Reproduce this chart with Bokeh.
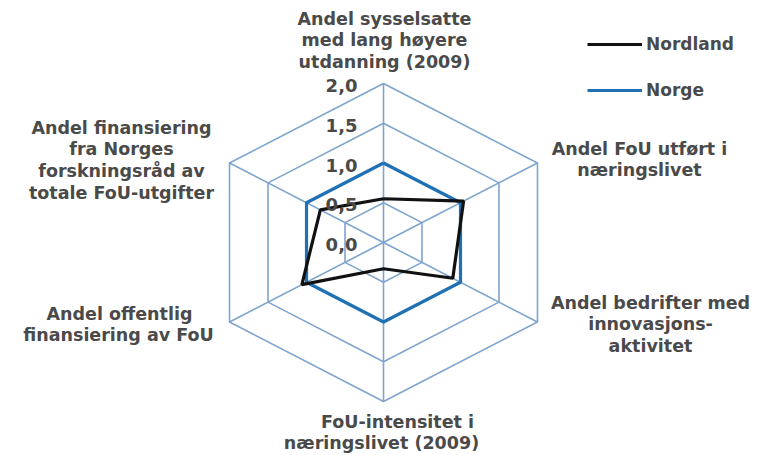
import numpy as np
from bokeh.plotting import figure
from bokeh.models import Range1d, Legend, LegendItem, ColumnDataSource
from bokeh.core.properties import value
from bokeh.embed import file_html
from bokeh.resources import INLINE

# ---------------- data ----------------
categories = [
    ["Andel sysselsatte", "med lang høyere", "utdanning (2009)"],
    ["Andel FoU utført i", "næringslivet"],
    ["Andel bedrifter med", "innovasjons-", "aktivitet"],
    ["FoU-intensitet i", "næringslivet (2009)"],
    ["Andel offentlig", "finansiering av FoU"],
    ["Andel finansiering", "fra Norges", "forskningsråd av", "totale FoU-utgifter"],
]
nordland = [0.55, 1.04, 0.90, 0.33, 1.06, 0.82]
norge = [1.0, 1.0, 1.0, 1.0, 1.0, 1.0]
series_names = ["Nordland", "Norge"]
tick_values = [0.0, 0.5, 1.0, 1.5, 2.0]
tick_labels = ["0,0", "0,5", "1,0", "1,5", "2,0"]

# ---------------- layout ----------------
W, H = 757, 455
CX, CY = 383, 242          # centre in figure pixels (from top-left)
KX, KY = 88.9, 79.5        # pixels per unit (x is stretched)

def px(X):   # picture x -> data x
    return (X - CX) / KX

def py(Y):   # picture y -> data y
    return (CY - Y) / KY

p = figure(width=W, height=H, output_backend="svg", toolbar_location=None,
           x_range=Range1d(-CX / KX, (W - CX) / KX),
           y_range=Range1d(-(H - CY) / KY, CY / KY),
           min_border=0, outline_line_color=None)
p.axis.visible = False
p.grid.visible = False
p.background_fill_color = "white"

n = len(categories)
ang = np.arange(n) * 2 * np.pi / n

def poly(vals):
    v = np.asarray(vals, dtype=float)
    xs = v * np.sin(ang)
    ys = v * np.cos(ang)
    return list(np.append(xs, xs[0])), list(np.append(ys, ys[0]))

GRID = "#7ea4cf"
for lv in tick_values[1:]:
    gx, gy = poly([lv] * n)
    p.line(gx, gy, line_color=GRID, line_width=1.6)
rmax = tick_values[-1]
for a in ang:
    p.line([0, rmax * np.sin(a)], [0, rmax * np.cos(a)], line_color=GRID, line_width=1.6)

nx, ny = poly(norge)
r_norge = p.line(nx, ny, line_color="#1f70b5", line_width=3.2)
bx, by = poly(nordland)
r_nord = p.line(bx, by, line_color="#111111", line_width=3.2)

TEXT = "#4a4a4a"
FONT = value("DejaVu Sans")

# tick labels
p.text(x=[px(357)] * len(tick_values), y=[v - 2 / KY for v in tick_values], text=tick_labels,
       text_font=FONT, text_font_style="bold", text_font_size="18px",
       text_color=TEXT, text_align="right", text_baseline="middle")

# category labels: (centre x per line, first line y) in picture pixels
label_pos = [
    ([384, 384, 384], 18),
    ([639, 639], 148),
    ([650, 650, 650], 302),
    ([397, 381], 421),
    ([119, 118], 313),
    ([121, 121, 121, 121], 127),
]
LH = 21.7
lx, ly, lt = [], [], []
for lines, (xs_, y0) in zip(categories, label_pos):
    for k, line in enumerate(lines):
        lx.append(px(xs_[k]))
        ly.append(py(y0 + k * LH))
        lt.append(line)
p.text(x=lx, y=ly, text=lt, text_font=FONT, text_font_style="bold", text_font_size="17.5px",
       text_color=TEXT, text_align="center", text_baseline="middle")

legend = Legend(items=[LegendItem(label=series_names[0], renderers=[r_nord]),
                       LegendItem(label=series_names[1], renderers=[r_norge])],
                location=(587, 355), orientation="vertical",
                border_line_alpha=0, background_fill_alpha=0,
                padding=0, margin=0, spacing=26,
                glyph_width=55, glyph_height=20, label_height=20, label_standoff=4,
                label_text_font="DejaVu Sans", label_text_font_style="bold",
                label_text_font_size="17px", label_text_color=TEXT)
p.add_layout(legend, "center")

open("out.html", "w").write(file_html(p, INLINE))
